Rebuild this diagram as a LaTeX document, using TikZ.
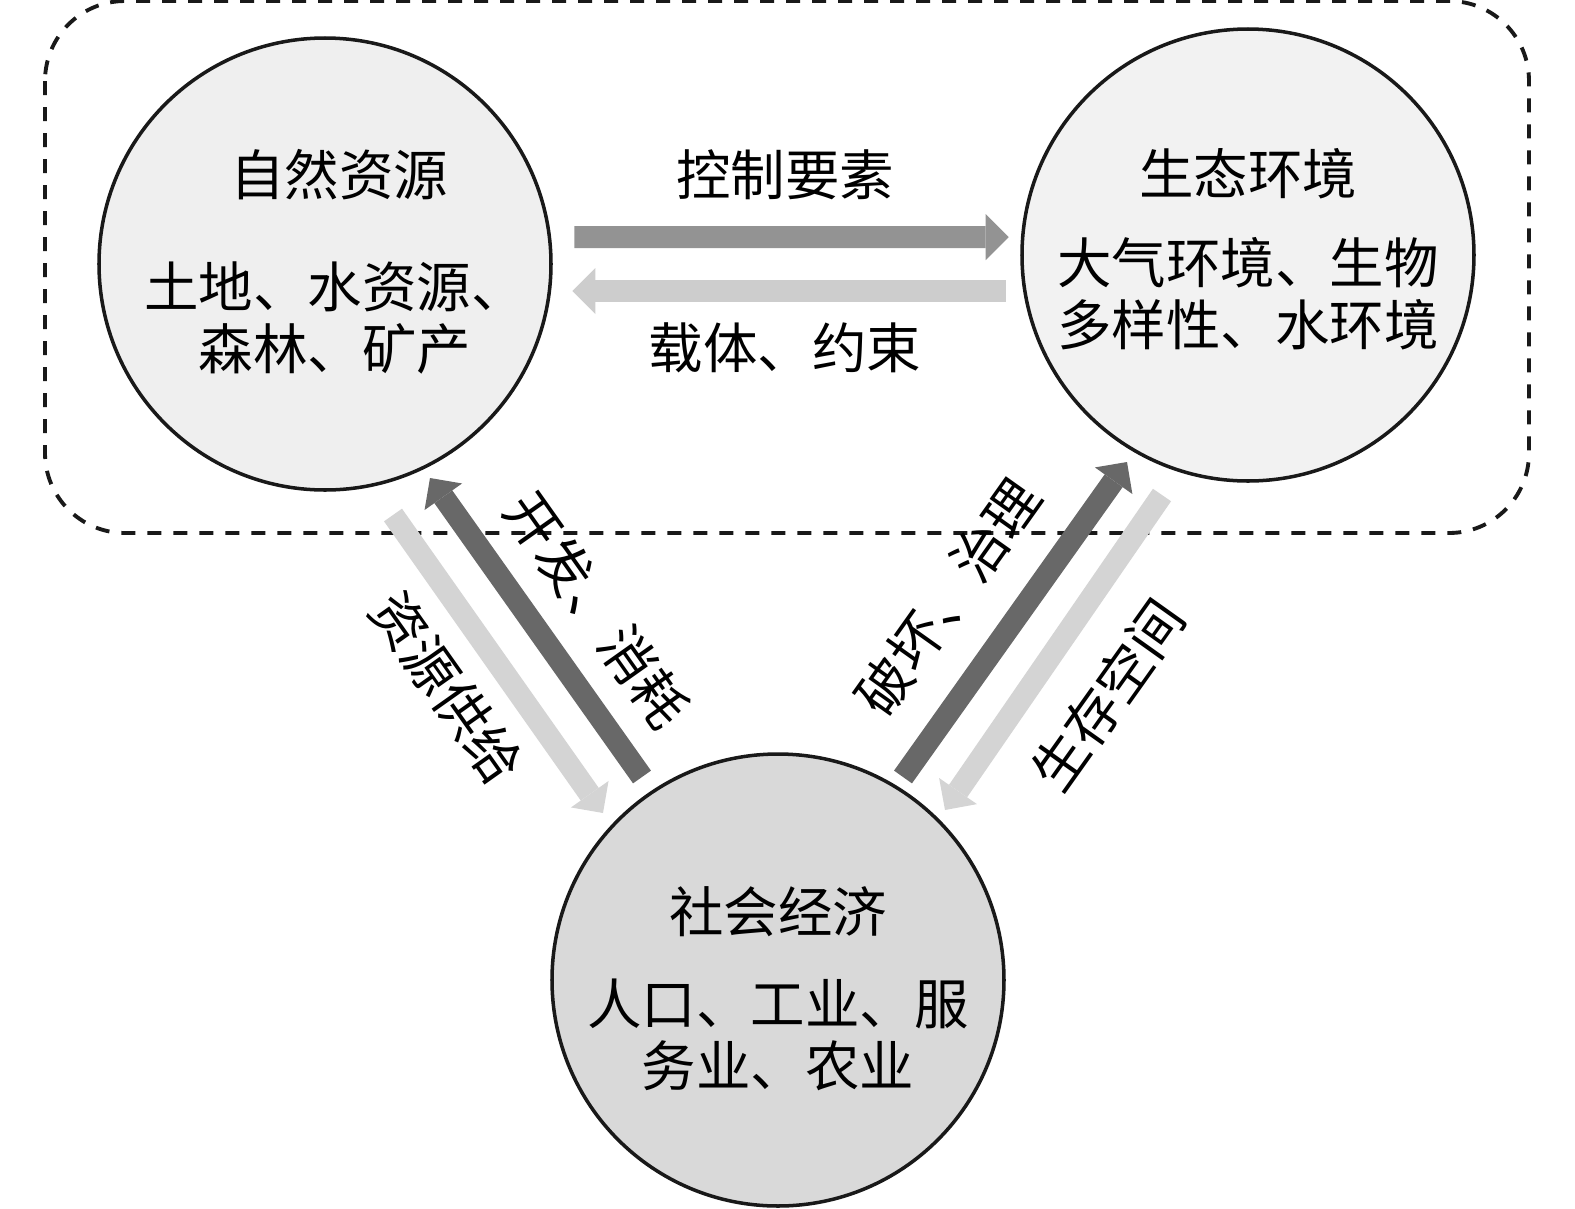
\documentclass[tikz,border=0pt]{standalone}
\usepackage{fontspec}
\newfontfamily\cjk{Noto Sans CJK SC}
\usepackage{tikz}
\usetikzlibrary{calc,arrows.meta}
\definecolor{lightfill}{HTML}{EFEFEF}
\definecolor{palefill}{HTML}{F2F2F2}
\definecolor{darkfill}{HTML}{D9D9D9}
\definecolor{midarrow}{HTML}{939393}
\definecolor{palearrow}{HTML}{CDCDCD}
\definecolor{darkarrow}{HTML}{686868}
\definecolor{lightarrow}{HTML}{D4D4D4}
\tikzset{
	sphere/.style={circle, draw=black!90, line width=1pt, minimum size=4.52cm, inner sep=0pt},
	flow/.style={line width=0.22cm, -{Triangle[width=0.46cm, length=0.23cm, line width=0pt]}},
	caption/.style={font=\cjk\fontsize{15.5}{17.7}\selectfont, inner sep=0pt, align=center},
	frame/.style={draw=black!90, line width=1.1pt, dash pattern=on 0.14cm off 0.12cm, rounded corners=0.8cm},
}

\begin{document}
\begin{tikzpicture}
		%%%%% START %%%%%
		\useasboundingbox (0, 0) rectangle (15.75, -12.09);
		
		\draw[frame] (0.45, -0.01) rectangle (15.29, -5.33);
		
		\node[sphere, fill=lightfill] (natres) at (3.25, -2.64) {};
		\node[sphere, fill=palefill] (ecoenv) at (12.48, -2.55) {};
		\node[sphere, fill=darkfill] (socecon) at (7.78, -9.80) {};
		
		\node[caption] (natres-title) at ($(natres)+(0.14, 0.89)$) {自然资源};
		\node[caption] (natres-body) at ($(natres)+(0.10, -0.54)$) {土地、水资源、\\森林、矿产};
		\node[caption] (ecoenv-title) at ($(ecoenv)+(0, 0.81)$) {生态环境};
		\node[caption] (ecoenv-body) at ($(ecoenv)+(0, -0.39)$) {大气环境、生物\\多样性、水环境};
		\node[caption] (socecon-title) at ($(socecon)+(0, 0.68)$) {社会经济};
		\node[caption] (socecon-body) at ($(socecon)+(0, -0.545)$) {人口、工业、服\\务业、农业};
		
		% top pair
		\draw[flow, midarrow] ($(natres.east)+(0.215, 0.27)$) -- ($(ecoenv.west)+(-0.115, 0.18)$);
		\draw[flow, palearrow] ($(ecoenv.west)+(-0.145, -0.36)$) -- ($(natres.east)+(0.195, -0.27)$);
		\node[caption] (control) at (7.85, -1.75) {控制要素};
		\node[caption] (carrier) at (7.85, -3.48) {载体、约束};
		
		% left pair
		\draw[flow, darkarrow] ($(socecon)+(-1.36, 2.03)$) -- ($(natres)+(1.05, -2.14)$);
		\draw[flow, lightarrow] ($(natres)+(0.68, -2.51)$) -- ($(socecon)+(-1.75, 1.67)$);
		\node[caption, rotate=-54.7] (exploit) at (5.97, -6.10) {开发、消耗};
		\node[caption, rotate=-54.7] (supply) at (4.47, -6.88) {资源供给};
		
		% right pair
		\draw[flow, darkarrow] ($(socecon)+(1.25, 2.03)$) -- ($(ecoenv)+(-1.21, -2.07)$);
		\draw[flow, lightarrow] ($(ecoenv)+(-0.86, -2.40)$) -- ($(socecon)+(1.67, 1.70)$);
		\node[caption, rotate=54.6] (damage) at (9.48, -5.97) {破坏、治理};
		\node[caption, rotate=54.6] (space) at (11.08, -6.95) {生存空间};
		
		%%%%% END %%%%%
	\end{tikzpicture}
\end{document}
